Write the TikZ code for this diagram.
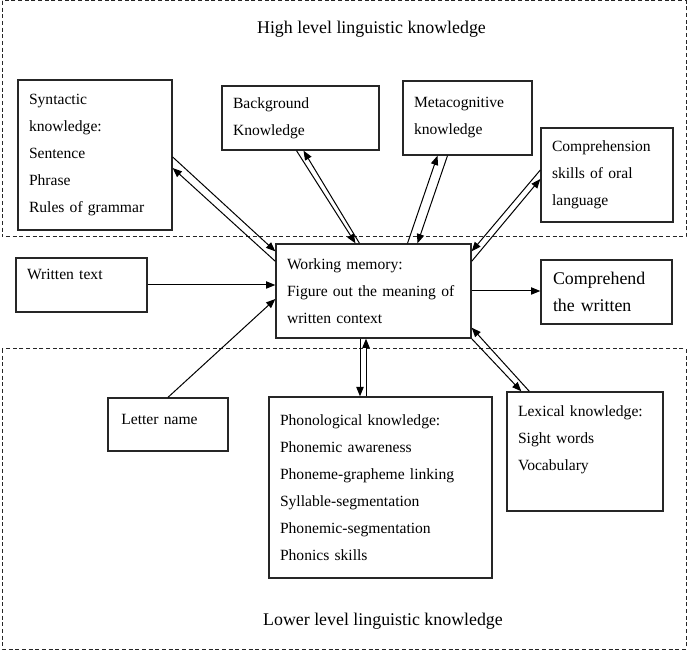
\documentclass[tikz,border=0pt]{standalone}
\usepackage{fontspec}
\setmainfont{Liberation Serif}
\usetikzlibrary{arrows.meta, positioning, calc}

\begin{document}
\begin{tikzpicture}[x=0.75pt, y=-0.75pt,
    box/.style={draw=black!85, line width=1pt, rectangle, align=left, inner xsep=8.25pt, inner ysep=2pt,
        font=\fontsize{11.7pt}{20.25pt}\selectfont},
    link/.style={line width=0.75pt, -{Triangle[length=7pt,width=5.5pt]}},
    region/.style={dash pattern=on 3pt off 2pt, line width=0.75pt, black!85},
    title/.style={anchor=base, font=\fontsize{13.4pt}{16pt}\selectfont}]
    \useasboundingbox (0,0) rectangle (690,652);

    % the two knowledge levels
    \draw[region] (2,1) rectangle (686,237);
    \draw[region] (2,349) rectangle (686,649);
    \node[title] (hightitle) at (371.5,34) {High level linguistic knowledge};
    \node[title] (lowtitle) at (383,626) {Lower level linguistic knowledge};

    % high level boxes
    \node[box, text width=99pt, minimum height=112.5pt] (syn) at (95,155)
        {Syntactic\\ knowledge:\\ Sentence\\ Phrase\\ Rules of grammar};
    \node[box, text width=101.25pt, minimum height=48pt] (bg) at (300.5,118)
        {Background\\ Knowledge};
    \node[box, text width=80.25pt, minimum height=55.5pt] (meta) at (467.5,118)
        {Metacognitive\\ knowledge};
    \node[box, text width=82.5pt, minimum height=70.5pt] (compr) at (607,175)
        {Comprehension\\ skills of oral\\ language};

    % middle row
    \node[box, text width=81.75pt, minimum height=40.5pt, text depth=15.75pt] (written) at (81.5,285)
        {Written text};
    \node[box, text width=129.75pt, minimum height=70.5pt] (wm) at (373.5,291)
        {Working memory:\\ Figure out the meaning of\\ written context};
    \node[box, inner xsep=9pt, text width=80.25pt, minimum height=48pt,
        font=\fontsize{13.4pt}{20.25pt}\selectfont] (compw) at (606.5,292)
        {Comprehend\\ the written};

    % lower level boxes
    \node[box, inner xsep=10pt, text width=70pt, minimum height=39.75pt, text depth=8.25pt] (letter) at (168,424.5)
        {Letter name};
    \node[box, text width=150.75pt, minimum height=135.75pt] (phon) at (380.5,487.5)
        {Phonological knowledge:\\ Phonemic awareness\\ Phoneme-grapheme linking\\
         Syllable-segmentation\\ Phonemic-segmentation\\ Phonics skills};
    \node[box, text width=100.5pt, minimum height=89.25pt, text depth=60pt] (lex) at (585,451.5)
        {Lexical knowledge:\\ Sight words\\ Vocabulary};

    % links to and from working memory
    \draw[link] ([yshift=-1.5pt]syn.east) -- ([yshift=-6pt]wm.north west);
    \draw[link] ([yshift=-13.5pt]wm.north west) -- ([yshift=-9.75pt]syn.east);
    \draw[link] ([xshift=-3pt]bg.south) -- ([xshift=-13.5pt]wm.north);
    \draw[link] ([xshift=-10.5pt]wm.north) -- ([xshift=2.25pt]bg.south);
    \draw[link] ([xshift=25.5pt]wm.north) -- ([xshift=-22.5pt]meta.south);
    \draw[link] ([xshift=-15pt]meta.south) -- ([xshift=33pt]wm.north);
    \draw[link] ([yshift=3.75pt]compr.west) -- ([yshift=-6pt]wm.north east);
    \draw[link] ([yshift=-13.5pt]wm.north east) -- ([yshift=-3pt]compr.west);

    \draw[link] (written.east) -- (written.east -| wm.west);
    \draw[link] (wm.east) -- (wm.east -| compw.west);
    \draw[link] (letter.north) -- ([yshift=-6pt]wm.west);

    \draw[link] ([xshift=-10.125pt]wm.south) -- ([xshift=-10.125pt]wm.south |- phon.north);
    \draw[link] ([xshift=-5.625pt]wm.south |- phon.north) -- ([xshift=-5.625pt]wm.south);
    \draw[link] ([xshift=17.25pt]lex.north west) -- ([yshift=8.25pt]wm.south east);
    \draw[link] (wm.south east) -- ([xshift=11.25pt]lex.north west);
\end{tikzpicture}
\end{document}
